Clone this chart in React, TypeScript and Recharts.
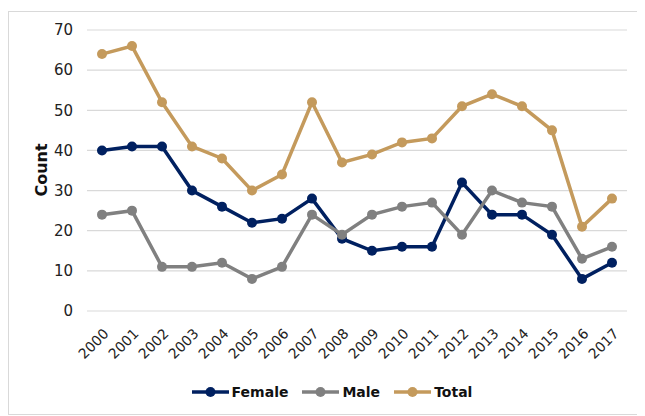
import { LineChart, Line, XAxis, YAxis, CartesianGrid, Legend } from 'recharts';

// ─── Data ─────────────────────────────────────────────────────────────────────

const years = [
  '2000', '2001', '2002', '2003', '2004', '2005', '2006', '2007', '2008',
  '2009', '2010', '2011', '2012', '2013', '2014', '2015', '2016', '2017',
];

const female = [40, 41, 41, 30, 26, 22, 23, 28, 18, 15, 16, 16, 32, 24, 24, 19, 8, 12];
const male = [24, 25, 11, 11, 12, 8, 11, 24, 19, 24, 26, 27, 19, 30, 27, 26, 13, 16];
const total = [64, 66, 52, 41, 38, 30, 34, 52, 37, 39, 42, 43, 51, 54, 51, 45, 21, 28];

const yTicks = [0, 10, 20, 30, 40, 50, 60, 70];

const SERIES = [
  { key: 'Female', color: '#002060' },
  { key: 'Male', color: '#808080' },
  { key: 'Total', color: '#C49A5C' },
];

const rows = years.map((year, i) => ({
  year,
  Female: female[i],
  Male: male[i],
  Total: total[i],
}));

const FONT = "'DejaVu Sans', sans-serif";

// ─── Pieces ───────────────────────────────────────────────────────────────────

const YearTick = ({ x, y, payload }: any) => (
  <text
    x={x + 4}
    y={y + 12}
    transform={`rotate(-45, ${x + 4}, ${y + 12})`}
    textAnchor="end"
    dominantBaseline="central"
    fontSize={14}
    fontFamily={FONT}
    fill="#222"
  >
    {payload.value}
  </text>
);

const LegendRow = () => (
  <div style={{ display: 'flex', justifyContent: 'center', gap: 14, fontFamily: FONT }}>
    {SERIES.map((s) => (
      <div key={s.key} style={{ display: 'flex', alignItems: 'center' }}>
        <svg width={37} height={12} style={{ marginRight: 3 }}>
          <line x1={0} y1={6} x2={37} y2={6} stroke={s.color} strokeWidth={3.5} />
          <circle cx={18.5} cy={6} r={5} fill={s.color} />
        </svg>
        <span style={{ fontWeight: 700, fontSize: 14, color: '#111' }}>{s.key}</span>
      </div>
    ))}
  </div>
);

// ─── Chart ────────────────────────────────────────────────────────────────────

export default function App() {
  return (
    <div
      style={{
        marginTop: 3,
        width: 632,
        height: 402,
        border: '1px solid #d9d9d9',
        background: '#fff',
      }}
    >
      <LineChart
        width={632}
        height={402}
        data={rows}
        margin={{ top: 18, right: 14, left: 28, bottom: 27 }}
      >
        <CartesianGrid vertical={false} stroke="#d9d9d9" strokeWidth={1.2} />
        <XAxis
          dataKey="year"
          axisLine={false}
          tickLine={false}
          interval={0}
          height={60}
          padding={{ left: 15, right: 15 }}
          tick={<YearTick />}
        />
        <YAxis
          domain={[0, 70]}
          ticks={yTicks}
          width={50}
          axisLine={false}
          tickLine={false}
          tickSize={6}
          tickMargin={8}
          tick={{ fontSize: 15, fontFamily: FONT, fill: '#222' }}
          label={{
            content: () => (
              <text
                x={32}
                y={158}
                transform="rotate(-90, 32, 158)"
                textAnchor="middle"
                dominantBaseline="central"
                fontSize={16}
                fontWeight={700}
                fontFamily={FONT}
                fill="#111"
              >
                Count
              </text>
            ),
          }}
        />
        <Legend
          verticalAlign="bottom"
          content={<LegendRow />}
          wrapperStyle={{ bottom: 14 }}
        />
        {SERIES.map((s) => (
          <Line
            key={s.key}
            dataKey={s.key}
            stroke={s.color}
            strokeWidth={3.5}
            dot={{ r: 5, fill: s.color, stroke: s.color, strokeWidth: 0 }}
            activeDot={false}
            isAnimationActive={false}
          />
        ))}
      </LineChart>
    </div>
  );
}
